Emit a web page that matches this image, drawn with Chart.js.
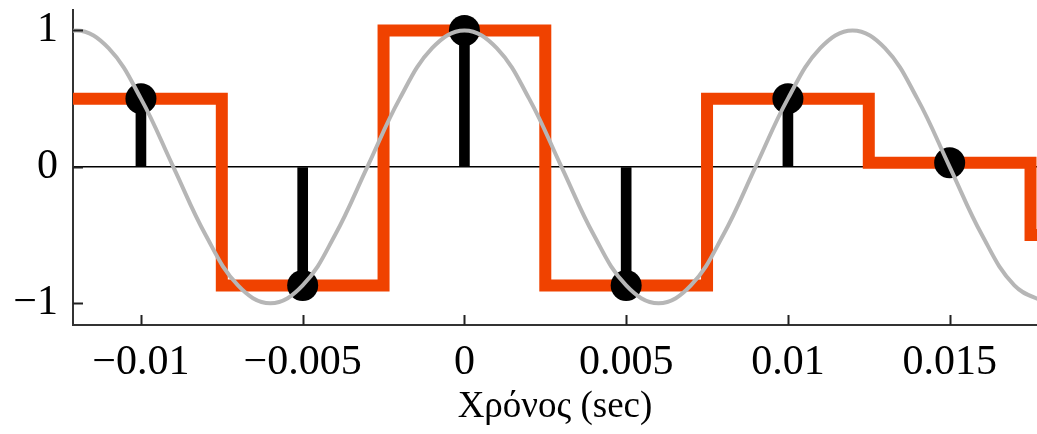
<!DOCTYPE html>
<html>
<head>
<meta charset="utf-8">
<title>Δειγματοληψία και συγκράτηση</title>
<script src="https://cdn.jsdelivr.net/npm/chart.js@4.4.1/dist/chart.umd.min.js"></script>
<style>
  html, body { margin: 0; padding: 0; background: #ffffff; }
  #wrap { width: 1037px; height: 434px; position: relative; }
</style>
</head>
<body>
<div id="wrap"><canvas id="chart" width="1037" height="434"></canvas></div>
<script>
// Continuous signal, read at 1 ms steps
const signalTimes = [-0.013, -0.012, -0.011, -0.010, -0.009, -0.008, -0.007, -0.006, -0.005, -0.004,
                     -0.003, -0.002, -0.001, 0.000, 0.001, 0.002, 0.003, 0.004, 0.005, 0.006,
                     0.007, 0.008, 0.009, 0.010, 0.011, 0.012, 0.013, 0.014, 0.015, 0.016,
                     0.017, 0.018];
const signalValues = [0.87, 1.00, 0.87, 0.50, 0.00, -0.50, -0.87, -1.00, -0.87, -0.50,
                      0.00, 0.50, 0.87, 1.00, 0.87, 0.50, 0.00, -0.50, -0.87, -1.00,
                      -0.87, -0.50, 0.00, 0.50, 0.87, 1.00, 0.87, 0.50, 0.00, -0.50,
                      -0.87, -1.00];

// Samples (stems with dots)
const sampleTimes = [-0.010, -0.005, 0.000, 0.005, 0.010, 0.015];
const sampleValues = [0.50, -0.87, 1.00, -0.87, 0.50, 0.03];

// Hold output: each level starts at its edge and lasts until the next edge
const holdEdges = [-0.0125, -0.0075, -0.0025, 0.0025, 0.0075, 0.0125, 0.0175, 0.0225];
const holdLevels = [0.50, -0.87, 1.00, -0.87, 0.50, 0.03, -0.50, -0.50];

// Axis ticks
const xTickValues = [-0.010, -0.005, 0.000, 0.005, 0.010, 0.015];
const xTickLabels = ['\u22120.01', '\u22120.005', '0', '0.005', '0.01', '0.015'];
const yTickValues = [-1, 0, 1];
const yTickLabels = ['\u22121', '0', '1'];

const xTitle = 'Χρόνος (sec)';

const pair = (xs, ys) => xs.map((x, i) => ({ x: x, y: ys[i] }));

const serif = '"Liberation Serif", "DejaVu Serif", serif';

// Short tick marks pointing into the plot area
const innerTicks = {
  id: 'innerTicks',
  afterDatasetsDraw(chart) {
    const { ctx, chartArea, scales } = chart;
    ctx.save();
    ctx.strokeStyle = '#222222';
    ctx.lineWidth = 2;
    ctx.beginPath();
    xTickValues.forEach(v => {
      const px = Math.round(scales.x.getPixelForValue(v)) + 0.5;
      ctx.moveTo(px, chartArea.bottom);
      ctx.lineTo(px, chartArea.bottom - 10);
    });
    yTickValues.forEach(v => {
      const py = Math.round(scales.y.getPixelForValue(v)) + 0.5;
      ctx.moveTo(chartArea.left, py);
      ctx.lineTo(chartArea.left + 10, py);
    });
    ctx.stroke();
    ctx.restore();
  }
};

new Chart(document.getElementById('chart'), {
  type: 'line',
  data: {
    datasets: [
      {
        label: 'signal',
        data: pair(signalTimes, signalValues),
        borderColor: 'rgb(182,182,182)',
        borderWidth: 4,
        pointRadius: 0,
        tension: 0.4,
        fill: false,
        order: 0
      },
      {
        type: 'scatter',
        label: 'samples',
        data: pair(sampleTimes, sampleValues),
        backgroundColor: '#000000',
        borderColor: '#000000',
        borderWidth: 0,
        pointRadius: 15.5,
        pointHoverRadius: 15.5,
        order: 1
      },
      {
        type: 'bar',
        label: 'stems',
        data: pair(sampleTimes, sampleValues),
        backgroundColor: '#000000',
        borderWidth: 0,
        barThickness: 10,
        order: 2
      },
      {
        label: 'hold',
        data: pair(holdEdges, holdLevels),
        stepped: true,
        borderColor: 'rgb(240,66,0)',
        borderWidth: 12,
        borderJoinStyle: 'miter',
        borderCapStyle: 'butt',
        pointRadius: 0,
        fill: false,
        order: 3
      }
    ]
  },
  options: {
    responsive: false,
    animation: false,
    events: [],
    layout: { autoPadding: false, padding: { top: 10, right: 0, bottom: 0, left: 0 } },
    plugins: {
      legend: { display: false },
      tooltip: { enabled: false }
    },
    scales: {
      x: {
        type: 'linear',
        min: -0.0121,
        max: 0.0177,
        offset: false,
        afterFit(scale) {
          scale.height = 109;
          scale.paddingLeft = 0;
          scale.paddingRight = 0;
        },
        afterBuildTicks(scale) { scale.ticks = xTickValues.map(v => ({ value: v })); },
        grid: { display: false, drawTicks: false },
        border: { display: true, color: '#333333', width: 2 },
        ticks: {
          color: '#000000',
          padding: 13,
          maxRotation: 0,
          autoSkip: false,
          font: { family: serif, size: 42 },
          callback: (value, index) => xTickLabels[index]
        },
        title: {
          display: true,
          text: xTitle,
          color: '#000000',
          font: { family: serif, size: 37 },
          padding: { top: 0, bottom: 5 }
        }
      },
      y: {
        type: 'linear',
        min: -1.16,
        max: 1.15,
        afterFit(scale) {
          scale.width = 73;
          scale.paddingTop = 0;
          scale.paddingBottom = 0;
        },
        afterBuildTicks(scale) { scale.ticks = yTickValues.map(v => ({ value: v })); },
        grid: {
          drawTicks: false,
          lineWidth: 1.5,
          color: ctx => (ctx.tick && ctx.tick.value === 0 ? '#000000' : 'rgba(0,0,0,0)')
        },
        border: { display: true, color: '#333333', width: 2 },
        ticks: {
          color: '#000000',
          padding: 15,
          font: { family: serif, size: 42 },
          callback: (value, index) => yTickLabels[index]
        }
      }
    }
  },
  plugins: [innerTicks]
});
</script>
</body>
</html>
